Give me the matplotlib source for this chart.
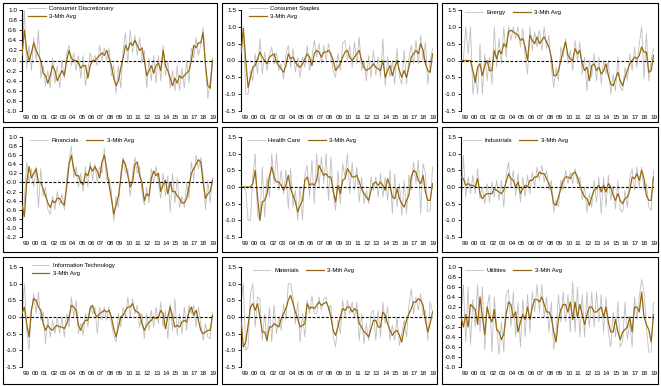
import numpy as np
import matplotlib.pyplot as plt
from matplotlib.patches import Rectangle

plt.rcParams['font.family'] = ['Liberation Sans', 'DejaVu Sans']
plt.rcParams['axes.unicode_minus'] = False

# quarterly points, Q1 1999 .. Q2 2019
t = 1999 + 0.25 * np.arange(82)
year_labels = ['99', '00', '01', '02', '03', '04', '05', '06', '07', '08', '09',
               '10', '11', '12', '13', '14', '15', '16', '17', '18', '19']

cd_raw = [0.0, 1.0, -0.15, 0.3, -0.2, 0.45, 0.0, 0.6, -0.35, -0.1, -0.5, -0.2, -0.55, 0.05, -0.45, -0.1,
          -0.55, 0.0, -0.35, 0.15, 0.3, -0.1, 0.15, -0.2, 0.1, -0.35, 0.1, -0.5, -0.2, 0.15, -0.05, 0.1,
          -0.1, 0.3, 0.0, 0.25, 0.0, 0.25, -0.3, -0.1, -0.65, -0.1, -0.55, 0.2, 0.55, -0.05, 0.6, 0.15,
          0.5, 0.1, 0.45, -0.05, 0.2, -0.55, 0.05, -0.4, 0.1, -0.45, 0.1, -0.4, 0.3, -0.3, 0.0, -0.55,
          -0.2, -0.6, -0.1, -0.6, -0.15, -0.55, 0.0, -0.45, 0.25, 0.05, 0.45, 0.1, 0.3, 0.65, -0.1, -0.75,
          -0.4, 0.05]
cd_avg = [0.1, 0.6, 0.2, 0.0, 0.15, 0.35, 0.2, 0.1, 0.0, -0.25, -0.3, -0.45, -0.3, -0.1, -0.2, -0.4,
          -0.3, -0.2, -0.3, 0.0, 0.2, 0.05, 0.0, 0.0, -0.05, -0.15, -0.1, -0.1, -0.35, -0.1, 0.0, 0.0,
          0.05, 0.1, 0.15, 0.1, 0.2, 0.05, -0.1, -0.35, -0.5, -0.4, -0.15, 0.05, 0.3, 0.2, 0.35, 0.3,
          0.4, 0.3, 0.2, 0.25, 0.0, -0.3, -0.2, -0.1, -0.25, -0.1, -0.05, -0.2, 0.2, -0.1, -0.2, -0.35,
          -0.5, -0.35, -0.45, -0.3, -0.35, -0.3, -0.25, -0.2, 0.0, 0.3, 0.25, 0.35, 0.35, 0.55, -0.1, -0.5,
          -0.55, 0.0]

cs_raw = [0.1, 1.0, -1.0, -1.0, -0.3, -0.6, 0.2, -0.4, 0.65, -0.4, 0.25, -0.3, 0.15, 0.4, -0.1, 0.25,
          -0.3, -0.1, -0.55, 0.2, 0.45, -0.2, 0.35, -0.35, 0.1, -0.5, 0.1, -0.2, 0.45, -0.3, 0.1, 0.6,
          0.1, 0.5, -0.1, 0.45, 0.0, 0.5, 0.1, -0.3, -0.5, 0.2, -0.3, 0.5, 0.6, 0.0, 0.45, -0.2,
          0.55, -0.1, 0.7, -0.3, 0.0, -0.6, 0.15, -0.5, 0.3, -0.45, 0.1, -0.5, 0.65, -0.75, 0.1, -0.5,
          0.0, -0.7, 0.35, -0.5, -0.7, 0.3, -0.7, 0.05, 0.45, -0.1, 0.6, -0.1, 0.75, 0.0, 0.55, -0.7,
          0.0, 0.35]
cs_avg = [0.2, 0.95, 0.0, -0.8, -0.5, -0.2, -0.15, 0.05, 0.25, 0.1, 0.0, -0.1, 0.1, 0.15, 0.2, -0.05,
          -0.15, -0.25, -0.35, -0.15, 0.2, 0.05, 0.1, -0.05, -0.15, -0.2, -0.1, 0.05, 0.2, 0.1, -0.15, 0.2,
          0.3, 0.25, 0.1, 0.25, 0.25, 0.3, 0.2, 0.0, -0.3, -0.2, -0.1, 0.1, 0.25, 0.3, 0.1, 0.0,
          0.1, 0.2, 0.3, 0.0, -0.2, -0.3, -0.25, -0.2, -0.1, -0.2, -0.25, -0.3, 0.0, -0.5, -0.3, -0.15,
          -0.45, -0.2, 0.0, -0.3, -0.5, -0.3, -0.5, -0.2, 0.1, 0.2, 0.3, 0.2, 0.5, 0.3, -0.1, -0.3,
          -0.35, 0.2]

en_raw = [0.0, 0.0, 1.0, 0.2, 1.0, -1.0, -0.4, -1.0, 0.5, -1.0, 0.2, -0.6, 0.1, -0.7, 1.0, -0.2,
          0.65, -0.1, 1.0, 0.1, 1.0, 0.6, 1.0, 0.65, 1.0, 0.4, 0.95, 0.1, -0.4, 1.0, 0.3, 0.85,
          0.4, 0.9, 0.3, 1.0, 0.35, 0.75, -0.2, -0.8, -0.2, -0.6, 0.4, 0.1, 0.65, -0.1, 0.3, -0.3,
          0.6, 0.0, 0.55, -0.4, 0.1, -0.9, 0.0, -0.5, 0.2, -0.6, 0.1, -0.7, 0.0, -0.4, 0.0, -1.0,
          -0.4, -0.9, 0.1, -0.8, -0.9, -0.2, -0.6, 0.2, -0.3, 0.4, -0.2, 0.5, 1.0, -0.55, 0.8, -0.6,
          0.0, 0.35]
en_avg = [0.0, 0.0, 0.0, 0.0, 0.0, -0.3, -0.65, -0.2, -0.1, -0.45, -0.15, 0.0, -0.3, -0.3, 0.3, 0.05,
          0.3, 0.2, 0.5, 0.4, 0.85, 0.9, 0.85, 0.8, 0.75, 0.6, 0.65, 0.4, 0.0, 0.75, 0.6, 0.5,
          0.7, 0.5, 0.6, 0.7, 0.55, 0.4, 0.1, -0.45, -0.45, -0.3, 0.0, 0.3, 0.55, 0.15, 0.05, 0.0,
          0.35, 0.2, 0.3, -0.1, -0.3, -0.2, -0.6, -0.15, -0.1, -0.3, -0.2, -0.4, -0.3, -0.1, -0.45, -0.7,
          -0.75, -0.55, -0.35, -0.6, -0.75, -0.5, -0.3, -0.1, 0.0, 0.1, 0.05, 0.15, 0.4, 0.25, 0.25, -0.35,
          -0.3, 0.15]

fin_raw = [-1.0, -0.4, 0.45, 0.0, 0.3, -0.1, 0.35, -0.55, 0.3, -0.3, -0.1, -0.6, -0.7, -0.3, -0.6, -0.2,
           -0.5, -0.25, -0.6, 0.1, 0.5, 0.8, 0.1, 0.35, -0.1, 0.2, -0.2, 0.35, -0.1, 0.45, 0.05, 0.4,
           0.0, 0.35, 0.2, 0.75, 0.05, 0.1, -0.2, -0.85, -0.3, -0.55, 0.2, 0.55, 0.2, 0.3, -0.3, 0.2,
           0.55, 0.2, 0.35, -0.2, -0.5, -0.1, -0.45, 0.3, 0.0, 0.35, 0.0, -0.35, 0.2, -0.3, 0.15, -0.65,
           0.2, -0.45, 0.1, -0.55, -0.3, -0.55, 0.0, -0.35, 0.45, 0.05, 0.6, 0.3, 0.55, 0.15, -0.6, 0.05,
           -0.45, 0.1]
fin_avg = [-0.5, -0.75, 0.0, 0.35, 0.1, 0.2, 0.3, 0.0, 0.0, -0.15, -0.3, -0.45, -0.55, -0.4, -0.45, -0.35,
           -0.35, -0.45, -0.5, -0.1, 0.4, 0.6, 0.3, 0.15, 0.15, 0.0, -0.05, 0.2, 0.15, 0.35, 0.25, 0.35,
           0.25, 0.1, 0.45, 0.6, 0.3, -0.05, -0.35, -0.7, -0.5, -0.3, 0.1, 0.5, 0.4, 0.15, -0.1, 0.0,
           0.4, 0.45, 0.15, 0.0, -0.4, -0.25, -0.3, 0.1, 0.25, 0.15, 0.2, -0.2, -0.05, 0.05, -0.25, 0.0,
           -0.2, -0.2, -0.3, -0.35, -0.45, -0.45, -0.35, -0.1, 0.2, 0.3, 0.4, 0.5, 0.45, 0.0, -0.35, -0.25,
           -0.2, 0.05]

hc_raw = [0.0, 0.0, -0.1, -1.0, -1.0, 0.3, 1.0, -0.85, -1.0, 0.6, -0.9, 0.3, -0.3, 1.0, 0.1, 1.0,
          -0.1, 0.5, -0.2, 0.5, -0.65, 0.55, -0.6, -0.1, -1.0, 0.0, -1.0, 0.35, 0.65, -0.3, 0.8, -0.5,
          1.0, 0.0, 0.9, 0.1, 1.0, -0.4, 0.9, -0.2, -0.7, 0.5, -0.5, 0.7, 0.3, 1.0, -0.2, 0.75,
          -0.1, 0.6, -0.45, 0.3, -0.5, -0.1, -0.5, 0.3, -0.1, 0.3, -0.3, 0.4, -0.3, 0.3, -0.4, 0.5,
          -0.8, 0.4, -0.6, 0.1, -0.85, 0.2, -0.8, 0.35, -0.1, 0.75, 0.1, 0.8, -0.8, 0.7, 0.4, -0.75,
          -0.7, 0.6]
hc_avg = [0.0, 0.0, 0.0, 0.0, 0.0, 0.1, 0.5, -0.3, -1.0, -0.45, -0.4, -0.2, 0.3, 0.6, 0.3, 0.15,
          0.15, 0.05, -0.1, 0.05, 0.35, -0.05, -0.25, -0.45, -0.75, -0.55, -0.4, 0.2, 0.3, 0.05, 0.1, 0.05,
          0.2, 0.65, 0.5, 0.35, 0.4, 0.3, 0.3, -0.1, -0.45, 0.05, -0.2, 0.2, 0.25, 0.55, 0.45, 0.3,
          0.3, 0.35, 0.15, -0.05, -0.2, -0.3, -0.4, -0.1, 0.1, 0.15, 0.05, 0.15, 0.05, -0.1, 0.25, 0.05,
          -0.3, -0.35, -0.05, -0.35, -0.5, -0.6, -0.4, -0.25, 0.3, 0.5, 0.45, 0.2, 0.1, 0.35, -0.15, -0.4,
          -0.4, 0.1]

ind_raw = [-1.0, 0.95, -0.3, 0.3, -0.2, 0.35, -0.2, 0.55, -0.35, 0.0, -0.5, 0.1, -0.45, 0.15, -0.3, 0.2,
           -0.4, 0.2, -0.6, 0.35, 0.75, 0.0, 0.5, -0.25, 0.4, -0.45, 0.3, -0.3, 0.35, -0.2, 0.45, 0.0,
           0.6, 0.2, 0.65, 0.15, 0.5, -0.1, 0.2, -0.75, -0.4, -0.6, 0.2, -0.1, 0.5, 0.1, 0.45, 0.1,
           0.55, 0.1, 0.3, -0.4, 0.0, -0.75, -0.2, -0.6, 0.2, -0.45, 0.3, -0.8, 0.3, -0.6, 0.35, -0.4,
           0.05, -0.65, 0.2, -0.7, -0.75, -0.1, -0.6, 0.3, 0.55, -0.1, 0.6, 0.0, 0.6, -0.1, 0.1, -0.6,
           -0.7, 0.5]
ind_avg = [0.3, 0.25, 0.05, 0.1, 0.05, 0.05, 0.0, 0.25, -0.2, -0.35, -0.25, -0.2, -0.2, -0.2, -0.05, -0.1,
           -0.15, -0.2, -0.1, 0.15, 0.4, 0.25, 0.2, 0.0, 0.15, -0.2, -0.05, 0.05, 0.0, 0.2, 0.2, 0.3,
           0.3, 0.45, 0.4, 0.4, 0.25, 0.1, -0.1, -0.5, -0.55, -0.3, -0.05, 0.2, 0.3, 0.3, 0.25, 0.4,
           0.45, 0.3, 0.05, -0.15, -0.3, -0.35, -0.55, -0.3, -0.1, -0.05, 0.05, -0.15, 0.05, -0.15, 0.1, 0.0,
           -0.25, -0.4, -0.2, -0.4, -0.5, -0.35, -0.3, -0.1, 0.3, 0.25, 0.4, 0.2, 0.5, 0.25, -0.25, -0.4,
           -0.4, 0.3]

it_raw = [0.0, 1.0, -0.4, -1.0, 0.2, 0.7, 0.1, 0.75, -0.1, 0.15, -0.8, 0.0, -0.6, -0.1, -0.5, 0.0,
          -0.5, 0.0, -0.6, 0.1, -0.3, 0.6, 0.0, 0.5, -0.5, -0.2, -0.55, 0.1, -0.3, 0.35, 0.1, 0.3,
          -0.5, 0.3, -0.1, 0.3, -0.1, 0.3, -0.2, -0.55, -0.75, 0.1, -0.3, 0.3, 0.0, 0.6, 0.0, 0.55,
          0.1, 0.35, -0.3, 0.1, -0.65, 0.1, -0.4, 0.2, -0.3, 0.3, -0.2, 0.45, -0.3, 0.2, -0.65, 0.4,
          -0.4, 0.55, -0.55, 0.1, -0.5, 0.3, -0.4, 0.35, 0.1, 0.35, -0.3, 0.3, -0.2, -0.7, -0.2, -0.6,
          -0.65, 0.15]
it_avg = [0.1, 0.3, -0.2, -0.6, 0.2, 0.55, 0.5, 0.3, 0.2, -0.2, -0.4, -0.25, -0.35, -0.4, -0.3, -0.25,
          -0.3, -0.3, -0.35, -0.2, 0.0, 0.35, 0.3, 0.2, -0.25, -0.4, -0.2, -0.1, -0.1, 0.25, 0.35, 0.1,
          0.0, 0.1, 0.15, 0.2, 0.15, 0.2, 0.0, -0.35, -0.6, -0.3, 0.0, 0.05, 0.2, 0.3, 0.3, 0.4,
          0.2, 0.15, 0.1, -0.2, -0.4, -0.25, -0.15, -0.1, 0.0, -0.05, 0.0, 0.2, 0.1, -0.35, 0.0, 0.3,
          0.0, -0.3, -0.25, -0.3, -0.15, -0.1, -0.15, 0.15, 0.3, 0.05, 0.2, -0.1, -0.4, -0.5, -0.45, -0.4,
          -0.4, 0.05]

mat_raw = [0.4, 1.0, -1.0, -0.9, 0.7, 1.0, -0.3, 0.6, 0.55, -0.7, 0.1, -0.75, 0.3, -0.75, 0.35, -0.5,
           0.0, -0.4, 0.4, -0.1, 1.0, 1.0, 0.6, -0.2, 0.45, -0.75, 0.1, -0.6, 0.5, 0.1, 0.65, 0.1,
           0.1, 0.6, 0.2, 0.55, 0.6, 0.2, 0.35, -0.6, -0.9, -0.1, -0.5, 0.5, 0.0, 0.5, 0.1, 0.45,
           0.0, 0.45, -0.7, 0.1, -0.8, -0.2, -0.7, 0.1, 0.2, -0.7, 0.2, -0.6, 0.45, -0.2, 0.3, -0.7,
           -0.25, -0.7, 0.0, -0.85, -0.5, -0.1, -0.6, 0.35, 0.85, 0.1, 0.6, 0.2, 0.7, 0.05, 0.2, -0.7,
           0.45, 0.15]
mat_avg = [-0.05, -0.9, -0.75, -0.25, 0.3, 0.4, 0.2, 0.4, 0.0, -0.45, -0.45, -0.7, -0.3, -0.3, -0.2, -0.25,
           -0.3, -0.05, 0.1, 0.25, 0.5, 0.65, 0.4, 0.15, -0.05, -0.3, -0.25, -0.2, 0.4, 0.25, 0.3, 0.25,
           0.35, 0.45, 0.35, 0.4, 0.45, 0.3, 0.0, -0.4, -0.55, -0.3, 0.0, 0.25, 0.2, 0.3, 0.3, 0.15,
           0.25, 0.2, -0.2, -0.3, -0.45, -0.5, -0.6, -0.35, -0.1, -0.1, -0.3, -0.3, 0.15, 0.05, -0.2, -0.4,
           -0.55, -0.45, -0.4, -0.55, -0.75, -0.35, -0.1, 0.1, 0.25, 0.45, 0.45, 0.55, 0.5, 0.35, -0.1, -0.45,
           -0.2, 0.15]

ut_raw = [0.0, 0.65, -0.5, 0.6, -0.55, 0.35, -0.2, 0.65, -0.3, 0.6, -0.65, 0.2, 0.45, -0.7, 0.4, -0.2,
          -0.75, -0.1, -0.7, 0.45, 0.55, -0.2, 0.5, -0.4, 0.3, -0.6, 0.35, -0.4, 0.45, -0.3, 0.5, 0.1,
          0.65, 0.1, 0.65, 0.0, 0.4, -0.3, 0.3, -0.65, -0.3, 0.45, -0.1, 0.5, -0.1, 0.45, -0.3, 0.7,
          -0.3, 0.6, -0.4, 0.45, -0.4, 0.5, -0.2, 0.5, -0.2, 0.5, -0.1, 0.45, -0.3, 0.4, -0.3, -0.6,
          0.1, -0.4, 0.3, -0.6, -0.5, 0.3, -0.45, -0.1, -0.6, 0.4, -0.05, 0.4, 0.75, 0.5, -0.2, -0.7,
          -0.7, 0.3]
ut_avg = [0.0, -0.2, 0.05, -0.2, 0.25, 0.2, 0.15, -0.15, 0.4, 0.0, -0.35, 0.2, 0.0, -0.1, 0.15, -0.25,
          -0.3, -0.45, -0.35, 0.05, 0.3, 0.25, 0.0, 0.1, -0.3, -0.1, 0.05, -0.05, 0.2, -0.05, 0.2, 0.35,
          0.35, 0.3, 0.4, 0.25, 0.1, 0.1, 0.0, -0.3, -0.5, -0.05, 0.15, 0.25, 0.25, 0.1, 0.3, -0.05,
          0.3, 0.0, 0.25, 0.05, -0.15, 0.05, 0.2, 0.2, 0.1, 0.1, 0.15, 0.2, 0.0, 0.2, -0.1, -0.3,
          -0.3, -0.05, -0.3, -0.45, -0.3, -0.25, -0.2, 0.0, -0.3, 0.2, 0.2, 0.1, 0.5, 0.0, -0.15, -0.25,
          -0.5, 0.05]

GREY = '#BFBFBF'
BROWN = '#96690F'
W, H = 661, 386

# (name, raw, avg, ymin, ymax, step, legend columns, legend x, legend y, column, row)
panels = [
    ('Consumer Discretionary', cd_raw, cd_avg, -1.0, 1.0, 0.2, 1, 0.03, 1.04, 0, 0),
    ('Consumer Staples', cs_raw, cs_avg, -1.5, 1.5, 0.5, 1, 0.04, 1.04, 1, 0),
    ('Energy', en_raw, en_avg, -1.5, 1.5, 0.5, 2, 0.02, 1.0, 2, 0),
    ('Financials', fin_raw, fin_avg, -1.2, 1.0, 0.2, 2, 0.04, 0.99, 0, 1),
    ('Health Care', hc_raw, hc_avg, -1.5, 1.5, 0.5, 2, 0.03, 0.99, 1, 1),
    ('Industrials', ind_raw, ind_avg, -1.5, 1.5, 0.5, 2, 0.01, 0.99, 2, 1),
    ('Information Technology', it_raw, it_avg, -1.5, 1.5, 0.5, 1, 0.05, 1.04, 0, 2),
    ('Materials', mat_raw, mat_avg, -1.5, 1.5, 0.5, 2, 0.06, 0.99, 1, 2),
    ('Utilities', ut_raw, ut_avg, -1.0, 1.0, 0.2, 2, 0.02, 0.99, 2, 2),
]

frame_cols = [(3, 217), (222, 437), (442, 658)]
frame_rows = [(3, 122), (127, 252), (257, 384)]
axes_rows = [(10, 111), (137, 237), (267, 367)]

fig = plt.figure(figsize=(W / 100, H / 100), dpi=100)

for name, raw, avg, ymin, ymax, step, ncol, lx, ly, c, r in panels:
    fx0, fx1 = frame_cols[c]
    fy0, fy1 = frame_rows[r]
    fig.add_artist(Rectangle((fx0 / W, 1 - fy1 / H), (fx1 - fx0) / W, (fy1 - fy0) / H,
                             transform=fig.transFigure, fill=False, ec='black', lw=0.8))

    ax0, ax1 = fx0 + 19, fx1 - 4
    ay0, ay1 = axes_rows[r]
    ax = fig.add_axes([ax0 / W, 1 - ay1 / H, (ax1 - ax0) / W, (ay1 - ay0) / H])

    ax.plot(t, raw, color=GREY, lw=0.6, label=name, zorder=2)
    ax.plot(t, avg, color=BROWN, lw=0.9, label='3-Mth Avg', zorder=3)
    ax.axhline(0, color='black', lw=0.8, ls=(0, (2.5, 1.5)), zorder=4)

    ax.set_xlim(1999.0, 2019.3)
    ax.set_ylim(ymin, ymax)
    yt = np.round(np.arange(ymin, ymax + step / 2, step), 1)
    ax.set_yticks(yt)
    ax.set_yticklabels([f'{v:.1f}' for v in yt])
    ax.set_xticks(np.linspace(1999.42, 2019.28, 21))
    ax.set_xticklabels(year_labels)

    for s in ['top', 'right', 'bottom']:
        ax.spines[s].set_visible(False)
    ax.spines['left'].set_linewidth(0.8)
    ax.tick_params(axis='y', length=2, width=0.6, pad=1.5, labelsize=4.6)
    ax.tick_params(axis='x', length=0, pad=3, labelsize=4.6)

    ax.legend(loc='upper left', bbox_to_anchor=(lx, ly), ncol=ncol, frameon=False,
              fontsize=4.3, handlelength=3.0, handletextpad=0.6, columnspacing=1.2,
              labelspacing=0.5, borderaxespad=0, borderpad=0)

fig.savefig('out.png', dpi=100)
